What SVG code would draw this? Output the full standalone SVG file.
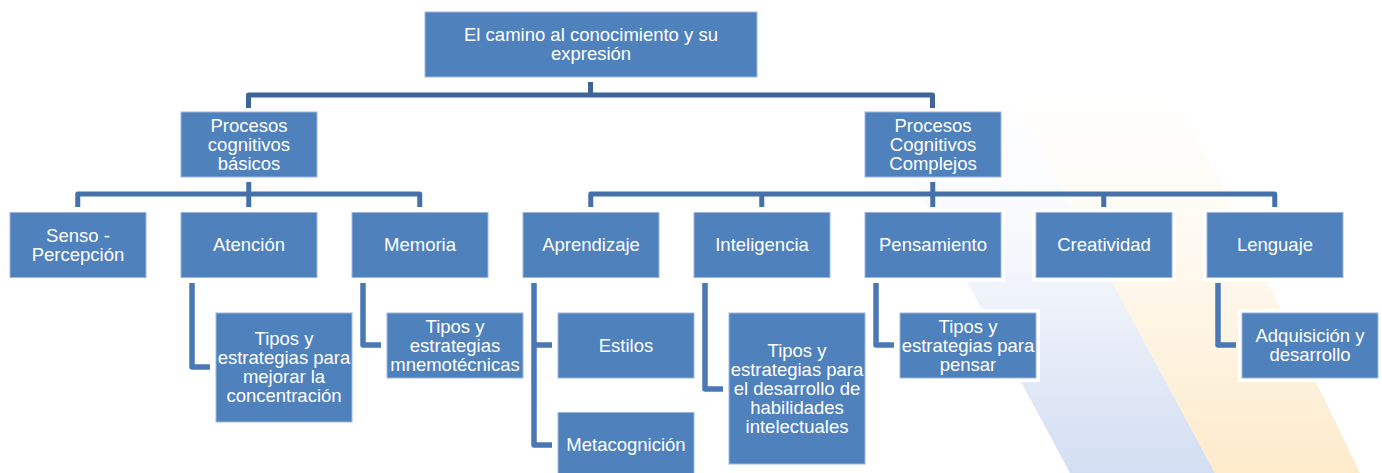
<svg xmlns="http://www.w3.org/2000/svg" width="1382" height="473" viewBox="0 0 1382 473">
<defs>
<linearGradient id="gBlue" gradientUnits="userSpaceOnUse" x1="0" y1="90" x2="0" y2="473">
<stop offset="0" stop-color="#f4f6fc" stop-opacity="0"/>
<stop offset="0.3" stop-color="#f4f6fc" stop-opacity="0.5"/>
<stop offset="0.55" stop-color="#eef2fa"/>
<stop offset="1" stop-color="#d3def2"/>
</linearGradient>
<linearGradient id="gYel" gradientUnits="userSpaceOnUse" x1="0" y1="90" x2="0" y2="473">
<stop offset="0" stop-color="#fffaf2" stop-opacity="0"/>
<stop offset="0.3" stop-color="#fff9ef" stop-opacity="0.6"/>
<stop offset="0.55" stop-color="#fef6e8"/>
<stop offset="1" stop-color="#fdebcb"/>
</linearGradient>
<style>
.halo{fill:#fff}
.box{fill:#4f81bd;stroke:#9db6dc;stroke-width:1}
.t{font-family:"Liberation Sans",Arial,sans-serif;font-size:18.5px;fill:#fff;text-anchor:middle}
.c1{fill:none;stroke:#3e6598;stroke-width:5;stroke-linejoin:round}
.c2{fill:none;stroke:#4571ab;stroke-width:5;stroke-linejoin:round}
.c3{fill:none;stroke:#4a78b5;stroke-width:5.5;stroke-linejoin:round}
</style>
</defs>
<rect width="1382" height="473" fill="#fff"/>
<g id="background">
<polygon points="864,90 1009,90 1215,473 1070,473" fill="url(#gBlue)"/>
<polygon points="1009,90 1175,90 1360,473 1215,473" fill="url(#gYel)"/>
</g>
<g id="connectors">
<path class="c1" d="M248.5,108 V95 H932.5 V108 M590.5,82 V95"/>
<path class="c2" d="M77.75,207 V194 H419.75 V207 M248.75,182 V207"/>
<path class="c2" d="M590.75,207 V194 H1274.75 V207 M761.75,194 V207 M932.75,182 V207 M1103.75,194 V207"/>
<path class="c3" d="M192,283 V367 H210"/>
<path class="c3" d="M363,283 V345 H381"/>
<path class="c3" d="M534,283 V445 H552 M534,345 H552"/>
<path class="c3" d="M705,283 V389 H723"/>
<path class="c3" d="M876,283 V345 H894"/>
<path class="c3" d="M1218,283 V345 H1236"/>
</g>
<g id="root">
<rect class="halo" x="421" y="8" width="340" height="73"/>
<rect class="box" x="425" y="12" width="332" height="65"/>
<text class="t" x="591" y="41">El camino al conocimiento y su</text>
<text class="t" x="591" y="60">expresión</text>
</g>
<g id="basicos">
<rect class="halo" x="177" y="108" width="144" height="73"/>
<rect class="box" x="181" y="112" width="136" height="65"/>
<text class="t" x="249" y="131.5">Procesos</text>
<text class="t" x="249" y="150.5">cognitivos</text>
<text class="t" x="249" y="169.5">básicos</text>
</g>
<g id="complejos">
<rect class="halo" x="861" y="108" width="144" height="73"/>
<rect class="box" x="865" y="112" width="136" height="65"/>
<text class="t" x="933" y="131.5">Procesos</text>
<text class="t" x="933" y="150.5">Cognitivos</text>
<text class="t" x="933" y="169.5">Complejos</text>
</g>
<g id="senso">
<rect class="halo" x="6" y="208.5" width="144" height="73"/>
<rect class="box" x="10" y="212.5" width="136" height="65"/>
<text class="t" x="78" y="241.5">Senso -</text>
<text class="t" x="78" y="260.5">Percepción</text>
</g>
<g id="atencion">
<rect class="halo" x="177" y="208.5" width="144" height="73"/>
<rect class="box" x="181" y="212.5" width="136" height="65"/>
<text class="t" x="249" y="251">Atención</text>
</g>
<g id="memoria">
<rect class="halo" x="348" y="208.5" width="144" height="73"/>
<rect class="box" x="352" y="212.5" width="136" height="65"/>
<text class="t" x="420" y="251">Memoria</text>
</g>
<g id="aprendizaje">
<rect class="halo" x="519" y="208.5" width="144" height="73"/>
<rect class="box" x="523" y="212.5" width="136" height="65"/>
<text class="t" x="591" y="251">Aprendizaje</text>
</g>
<g id="inteligencia">
<rect class="halo" x="690" y="208.5" width="144" height="73"/>
<rect class="box" x="694" y="212.5" width="136" height="65"/>
<text class="t" x="762" y="251">Inteligencia</text>
</g>
<g id="pensamiento">
<rect class="halo" x="861" y="208.5" width="144" height="73"/>
<rect class="box" x="865" y="212.5" width="136" height="65"/>
<text class="t" x="933" y="251">Pensamiento</text>
</g>
<g id="creatividad">
<rect class="halo" x="1032" y="208.5" width="144" height="73"/>
<rect class="box" x="1036" y="212.5" width="136" height="65"/>
<text class="t" x="1104" y="251">Creatividad</text>
</g>
<g id="lenguaje">
<rect class="halo" x="1203" y="208.5" width="144" height="73"/>
<rect class="box" x="1207" y="212.5" width="136" height="65"/>
<text class="t" x="1275" y="251">Lenguaje</text>
</g>
<g id="concentracion">
<rect class="halo" x="212" y="309" width="144" height="117"/>
<rect class="box" x="216" y="313" width="136" height="109"/>
<text class="t" x="284" y="345">Tipos y</text>
<text class="t" x="284" y="364">estrategias para</text>
<text class="t" x="284" y="383">mejorar la</text>
<text class="t" x="284" y="402">concentración</text>
</g>
<g id="mnemotecnicas">
<rect class="halo" x="383" y="309" width="144" height="73"/>
<rect class="box" x="387" y="313" width="136" height="65"/>
<text class="t" x="455" y="332.5">Tipos y</text>
<text class="t" x="455" y="351.5">estrategias</text>
<text class="t" x="455" y="370.5">mnemotécnicas</text>
</g>
<g id="estilos">
<rect class="halo" x="554" y="309" width="144" height="73"/>
<rect class="box" x="558" y="313" width="136" height="65"/>
<text class="t" x="626" y="351.5">Estilos</text>
</g>
<g id="metacognicion">
<rect class="halo" x="554" y="408.5" width="144" height="73"/>
<rect class="box" x="558" y="412.5" width="136" height="65"/>
<text class="t" x="626" y="451">Metacognición</text>
</g>
<g id="habilidades">
<rect class="halo" x="725" y="309" width="144" height="159"/>
<rect class="box" x="729" y="313" width="136" height="151"/>
<text class="t" x="797" y="356.5">Tipos y</text>
<text class="t" x="797" y="375.5">estrategias para</text>
<text class="t" x="797" y="394.5">el desarrollo de</text>
<text class="t" x="797" y="413.5">habilidades</text>
<text class="t" x="797" y="432.5">intelectuales</text>
</g>
<g id="pensar">
<rect class="halo" x="896" y="309" width="144" height="73"/>
<rect class="box" x="900" y="313" width="136" height="65"/>
<text class="t" x="968" y="332.5">Tipos y</text>
<text class="t" x="968" y="351.5">estrategias para</text>
<text class="t" x="968" y="370.5">pensar</text>
</g>
<g id="adquisicion">
<rect class="halo" x="1238" y="309" width="144" height="73"/>
<rect class="box" x="1242" y="313" width="136" height="65"/>
<text class="t" x="1310" y="342">Adquisición y</text>
<text class="t" x="1310" y="361">desarrollo</text>
</g>
</svg>
